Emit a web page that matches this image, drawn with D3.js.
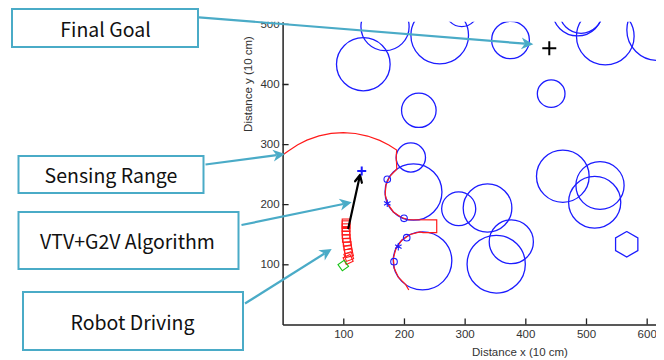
<!DOCTYPE html>
<html><head><meta charset="utf-8">
<script src="https://cdn.jsdelivr.net/npm/d3@7"></script>
<style>body{margin:0;background:#fff}svg{display:block}</style>
</head><body>
<svg id="chart" width="664" height="360"></svg>
<script>
// ---------- data (units: 10 cm) ----------
const xTicks = [100, 200, 300, 400, 500, 600];
const yTicks = [100, 200, 300, 400, 500];

// obstacles: [x, y, radius]
const obstacleX = [133.0, 168.8, 258.9, 375.6, 224.5, 442.6, 211.3, 215.7, 230.6, 290.2, 337.7, 376.9, 352.0, 461.8, 523.1, 514.3, 486.0, 491.8, 531.8, 618.0, 295.2];
const obstacleY = [432.8, 495.3, 481.0, 473.2, 356.2, 383.9, 277.7, 220.3, 105.8, 192.3, 193.7, 137.6, 100.2, 246.6, 231.1, 203.3, 521.1, 519.8, 479.4, 489.9, 522.3];
const obstacleR = [44.2, 39.7, 47.5, 31.1, 28.5, 22.8, 24.2, 46.9, 48.3, 28.1, 40.1, 36.4, 48.0, 43.4, 39.7, 43.0, 41.1, 35.4, 47.5, 50.7, 26.8];
// coarse (hexagonal) obstacle
const hexObstacle = [567.1, 133.4, 21.2];

// sensing range boundary
const sensingX = [0, 10, 25, 40, 60, 80, 100, 120, 140, 160, 175, 188, 187.5, 187.3, 187.8, 188.1, 177.3, 170.4, 169.0, 173.2, 182.5, 195.9, 207.6, 254, 254, 231.5, 226.4, 210.2, 196.4, 186.8, 182.5, 183.9, 191.0, 202.9, 208.0];
const sensingY = [282, 289, 299, 306.6, 313.7, 317.7, 319, 317.6, 313.4, 306.2, 298.5, 290, 283, 276, 268, 258.2, 247.2, 232.4, 216.2, 200.5, 187.1, 177.8, 174.1, 173.9, 152.6, 152.6, 153.9, 149.6, 140, 126.2, 110, 93.3, 78.1, 66.2, 57.2];

// detected edge points on the sensing boundary
const edgeCircleX = [172.5, 200.1, 204.5, 183.6];
const edgeCircleY = [241.4, 176.5, 144.3, 104.3];
const edgeStarX = [172.5, 190.7];
const edgeStarY = [201.5, 129.3];

// robot driving poses: x, y, heading (deg)
const robotX = [100, 108, 109, 109, 108, 107, 106, 105, 104.5, 104.5, 104.5, 104.5, 104.5];
const robotY = [98, 108, 113, 119, 125, 131, 137, 143, 149, 155, 161, 166, 169];
const robotTheta = [35, 25, 20, 15, 10, 5, 3, 0, 0, 0, 0, 0, 0];

// VTV+G2V virtual target, heading vector, final goal
const vtvTarget = [130.4, 255.2];
const headingFrom = [108.3, 159.9];
const headingTo = [127.6, 248.6];
const finalGoal = [439.5, 459.4];

// callout labels and the data point each one points at
const calloutLabels = ["Final Goal", "Sensing Range", "VTV+G2V Algorithm", "Robot Driving"];
const calloutTargetX = [413.2, 4, 113.9, 80.9];
const calloutTargetY = [466, 283.5, 203.2, 125.5];

// ---------- layout ----------
const svg = d3.select("#chart");
const X0 = 282.6, Y0 = 324.4;
const x = d3.scaleLinear().domain([0, 615]).range([X0, X0 + 615 * 0.6068]);
const y = d3.scaleLinear().domain([0, 503.5]).range([Y0, Y0 - 503.5 * 0.601]);
const robotSize = 12.5;
const BLUE = "#1c1cff", RED = "#ff1a1a", TEAL = "#4aabc7";

svg.append("defs").append("clipPath").attr("id", "clip")
  .append("rect").attr("x", 0).attr("y", 21.7).attr("width", 656).attr("height", 340);

const g = svg.append("g").attr("clip-path", "url(#clip)");
const plot = g.append("g");

// obstacles
const obstacles = obstacleX.map((d, i) => ({x: d, y: obstacleY[i], r: obstacleR[i]}));
plot.selectAll("ellipse.obs").data(obstacles).join("ellipse")
  .attr("class", "obs")
  .attr("cx", d => x(d.x)).attr("cy", d => y(d.y))
  .attr("rx", d => x(d.r) - x(0)).attr("ry", d => y(0) - y(d.r))
  .attr("fill", "none").attr("stroke", BLUE).attr("stroke-width", 1.3);

// hexagonal obstacle
const hexPts = d3.range(7).map(k => {
  const a = Math.PI / 2 + k * Math.PI / 3;
  return [hexObstacle[0] + hexObstacle[2] * Math.cos(a), hexObstacle[1] + hexObstacle[2] * Math.sin(a)];
});
plot.append("path")
  .attr("d", d3.line().x(d => x(d[0])).y(d => y(d[1]))(hexPts))
  .attr("fill", "none").attr("stroke", BLUE).attr("stroke-width", 1.3);

// sensing range
const sensing = sensingX.map((d, i) => [d, sensingY[i]]);
plot.append("path")
  .attr("d", d3.line().x(d => x(d[0])).y(d => y(d[1]))(sensing))
  .attr("fill", "none").attr("stroke", RED).attr("stroke-width", 1.2);

// edge markers
plot.selectAll("circle.edge").data(edgeCircleX.map((d, i) => [d, edgeCircleY[i]])).join("circle")
  .attr("class", "edge")
  .attr("cx", d => x(d[0])).attr("cy", d => y(d[1])).attr("r", 3.3)
  .attr("fill", "none").attr("stroke", BLUE).attr("stroke-width", 1.1);
plot.selectAll("path.star").data(edgeStarX.map((d, i) => [d, edgeStarY[i]])).join("path")
  .attr("class", "star")
  .attr("transform", d => `translate(${x(d[0])},${y(d[1])})`)
  .attr("d", d3.symbol().type(d3.symbolAsterisk).size(40))
  .attr("fill", "none").attr("stroke", BLUE).attr("stroke-width", 1.1);

// robot poses
const poses = robotX.map((d, i) => ({x: d, y: robotY[i], t: robotTheta[i], start: i === 0}));
const side = x(robotSize) - x(0);
plot.selectAll("rect.robot").data(poses.slice().reverse()).join("rect")
  .attr("class", "robot")
  .attr("transform", d => `translate(${x(d.x)},${y(d.y)}) rotate(${-d.t})`)
  .attr("x", -side / 2).attr("y", -side / 2).attr("width", side).attr("height", side)
  .attr("fill", "none")
  .attr("stroke", d => d.start ? "#16c416" : RED).attr("stroke-width", 1.1);

// heading vector (quiver style)
{
  const x1 = x(headingFrom[0]), y1 = y(headingFrom[1]), x2 = x(headingTo[0]), y2 = y(headingTo[1]);
  const ang = Math.atan2(y2 - y1, x2 - x1), L = 8, spread = 0.45;
  plot.append("path")
    .attr("d", `M${x1},${y1}L${x2},${y2}M${x2 - L * Math.cos(ang - spread)},${y2 - L * Math.sin(ang - spread)}L${x2},${y2}L${x2 - L * Math.cos(ang + spread)},${y2 - L * Math.sin(ang + spread)}`)
    .attr("fill", "none").attr("stroke", "#000").attr("stroke-width", 2.2).attr("stroke-linecap", "round").attr("stroke-linejoin", "round");
}

// virtual target "+"
plot.append("path")
  .attr("transform", `translate(${x(vtvTarget[0])},${y(vtvTarget[1])})`)
  .attr("d", "M-4.5,0H4.5M0,-4.5V4.5")
  .attr("stroke", BLUE).attr("stroke-width", 2);

// final goal "+"
plot.append("path")
  .attr("transform", `translate(${x(finalGoal[0])},${y(finalGoal[1])})`)
  .attr("d", "M-7,0H7M0,-7V7")
  .attr("stroke", "#000").attr("stroke-width", 2);

// axes
const xAxis = d3.axisBottom(x).tickValues(xTicks).tickSizeInner(-6).tickSizeOuter(0).tickPadding(5);
const yAxis = d3.axisLeft(y).tickValues(yTicks).tickSizeInner(-6).tickSizeOuter(0).tickPadding(3);
const gx = g.append("g").attr("transform", `translate(0,${Y0})`).call(xAxis);
const gy = g.append("g").attr("transform", `translate(${X0},0)`).call(yAxis);
[gx, gy].forEach(a => {
  a.select(".domain").attr("stroke", "#222").attr("stroke-width", 1.5);
  a.selectAll(".tick line").attr("stroke", "#222").attr("stroke-width", 1.3);
  a.selectAll(".tick text").attr("fill", "#333").attr("font-family", "Liberation Sans, Arial, sans-serif").attr("font-size", 11.5);
});

g.append("text").attr("x", 520).attr("y", 356)
  .attr("text-anchor", "middle").attr("font-family", "Liberation Sans, Arial, sans-serif")
  .attr("font-size", 11.5).attr("fill", "#333").text("Distance x (10 cm)");
g.append("text").attr("transform", "translate(252,84) rotate(-90)")
  .attr("text-anchor", "middle").attr("font-family", "Liberation Sans, Arial, sans-serif")
  .attr("font-size", 11.5).attr("fill", "#333").text("Distance y (10 cm)");

// ---------- callouts ----------
const boxes = [
  {bx: 12, by: 9, bw: 186, bh: 38, sx: 199, sy: 17.3, tx: 105.5, ty: 28},
  {bx: 18.5, by: 156, bw: 185, bh: 37, sx: 205.5, sy: 164.5, tx: 111, ty: 174.5},
  {bx: 18.5, by: 212, bw: 220, bh: 57, sx: 241.5, sy: 225, tx: 127.5, ty: 240.5},
  {bx: 23, by: 292, bw: 220, bh: 58, sx: 245, sy: 303.5, tx: 132.5, ty: 321}
];
const ann = svg.append("g");
calloutLabels.forEach((lab, i) => {
  const b = boxes[i];
  const tipX = x(calloutTargetX[i]), tipY = y(calloutTargetY[i]);
  const ang = Math.atan2(tipY - b.sy, tipX - b.sx);
  const L = 12, W = 6, N = 3.5;
  const c = Math.cos(ang), s = Math.sin(ang);
  const bxp = tipX - L * c, byp = tipY - L * s;
  ann.append("line").attr("x1", b.sx).attr("y1", b.sy)
    .attr("x2", tipX - (L - N) * c).attr("y2", tipY - (L - N) * s)
    .attr("stroke", TEAL).attr("stroke-width", 2.2);
  ann.append("path")
    .attr("d", `M${tipX},${tipY}L${bxp - W * s},${byp + W * c}L${tipX - (L - N) * c},${tipY - (L - N) * s}L${bxp + W * s},${byp - W * c}Z`)
    .attr("fill", TEAL);
  ann.append("rect").attr("x", b.bx).attr("y", b.by).attr("width", b.bw).attr("height", b.bh)
    .attr("fill", "#fff").attr("stroke", TEAL).attr("stroke-width", 2);
  ann.append("text").attr("x", b.tx).attr("y", b.ty)
    .attr("text-anchor", "middle").attr("dominant-baseline", "central")
    .attr("font-family", "'Noto Sans CJK KR', 'Noto Sans', sans-serif")
    .attr("font-size", 19.5).attr("fill", "#111").text(lab);
});
</script>
</body></html>
